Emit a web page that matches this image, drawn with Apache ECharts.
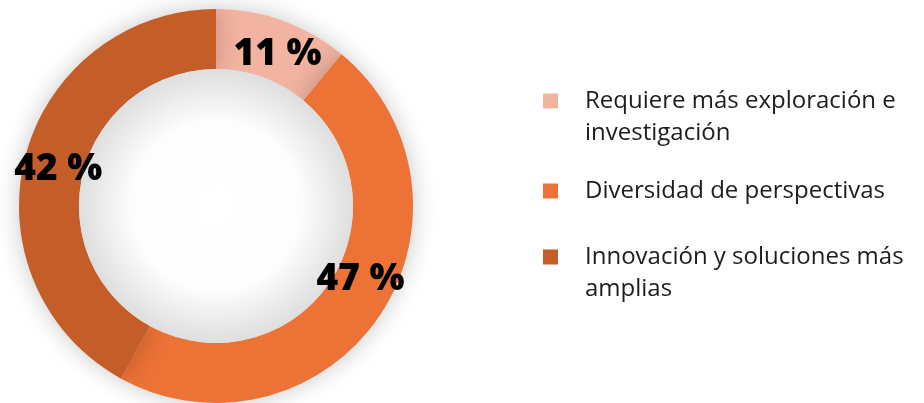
<!DOCTYPE html>
<html>
<head>
<meta charset="utf-8">
<script src="https://cdn.jsdelivr.net/npm/echarts@6/dist/echarts.min.js"></script>
<style>
  html, body { margin: 0; padding: 0; background: #ffffff; }
  #chart { width: 924px; height: 403px; }
</style>
</head>
<body>
<div id="chart"></div>
<script>
// Survey answers and their shares (percent)
const categories = [
  'Requiere más exploración e\ninvestigación',
  'Diversidad de perspectivas',
  'Innovación y soluciones más\namplias'
];
const values = [11, 47, 42];
const colors = ['#F2B3A1', '#EC7236', '#C45D27'];
// small nudges of the value labels inside the ring
const labelOffsets = [[4, 8], [4, -22], [7, 6]];
// top edge of each legend block
const legendTops = [53, 175, 209];

const FONT = '"Open Sans", "Noto Sans", sans-serif';
const LINE = 32;

const ringData = categories.map((name, i) => ({
  name,
  value: values[i],
  itemStyle: { color: colors[i] },
  label: { offset: labelOffsets[i] }
}));

// one legend block per answer, so each swatch lines up with the first text line
const legends = categories.map((name, i) => ({
  orient: 'vertical',
  left: 543,
  top: legendTops[i],
  padding: 0,
  itemWidth: 15,
  itemHeight: 15,
  icon: 'rect',
  data: [name],
  // a leading blank line keeps the first real line centred on the swatch
  formatter: n => (n.indexOf('\n') >= 0 ? '\n' + n : n),
  textStyle: {
    fontFamily: FONT,
    fontSize: 24,
    color: '#1d1d1d',
    lineHeight: LINE,
    padding: [0, 0, 0, 22]
  }
}));

const chart = echarts.init(document.getElementById('chart'), null, { renderer: 'canvas' });

chart.setOption({
  backgroundColor: '#ffffff',
  animation: false,
  legend: legends,
  series: [
    {
      type: 'pie',
      center: [216, 206],
      radius: [137, 197],
      startAngle: 90,
      clockwise: true,
      silent: true,
      itemStyle: {
        shadowBlur: 24,
        shadowColor: 'rgba(0,0,0,0.22)'
      },
      label: {
        position: 'inside',
        formatter: '{c} %',
        fontFamily: FONT,
        fontSize: 37,
        fontWeight: 800,
        color: '#000000'
      },
      labelLine: { show: false },
      data: ringData
    },
    {
      // hole of the donut, shaded towards its rim
      type: 'pie',
      center: [216, 206],
      radius: [0, 137],
      silent: true,
      label: { show: false },
      labelLine: { show: false },
      legendHoverLink: false,
      data: [{
        name: 'hole',
        value: 1,
        itemStyle: {
          color: {
            type: 'radial', x: 0.5, y: 0.5, r: 0.5,
            colorStops: [
              { offset: 0, color: '#ffffff' },
              { offset: 0.62, color: '#fdfdfd' },
              { offset: 1, color: '#dedede' }
            ]
          }
        }
      }]
    }
  ]
});
</script>
</body>
</html>
